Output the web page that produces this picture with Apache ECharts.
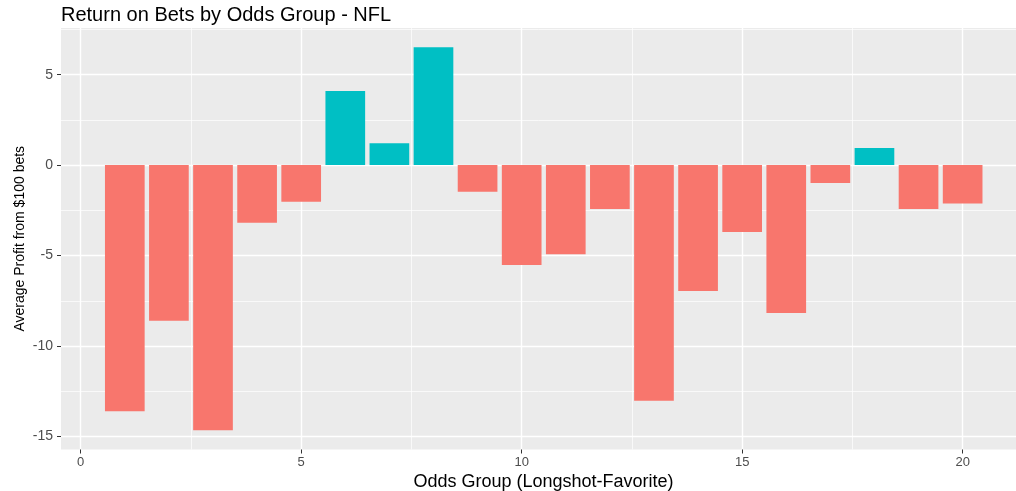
<!DOCTYPE html>
<html>
<head>
<meta charset="utf-8">
<script src="https://cdn.jsdelivr.net/npm/echarts@6/dist/echarts.min.js"></script>
<style>
html,body{margin:0;padding:0;background:#fff;}
#chart{width:1016px;height:491px;}
</style>
</head>
<body>
<div id="chart"></div>
<script>
// ---- data ----
const oddsGroups = [1, 2, 3, 4, 5, 6, 7, 8, 9, 10, 11, 12, 13, 14, 15, 16, 17, 18, 19, 20];
const avgProfit = [-13.6, -8.6, -14.66, -3.19, -2.03, 4.10, 1.21, 6.52, -1.47, -5.52,
                   -4.92, -2.43, -13.02, -6.96, -3.70, -8.18, -0.99, 0.94, -2.43, -2.12];
const xMajorTicks = [0, 5, 10, 15, 20];
const xMinorTicks = [2.5, 7.5, 12.5, 17.5];
const yMajorTicks = [-15, -10, -5, 0, 5];
const yMinorTicks = [-12.5, -7.5, -2.5, 2.5, 7.5];

const POS = '#00BFC4', NEG = '#F8766D';
const FONT = 'Liberation Sans';
const barHalf = 0.45;

const chart = echarts.init(document.getElementById('chart'), null, {renderer: 'canvas'});

const seriesData = oddsGroups.map((g, i) => [g, avgProfit[i]]);

const xCommon = {type: 'value', min: -0.447, max: 21.21, gridIndex: 0};
const yCommon = {type: 'value', min: -15.72, max: 7.58, gridIndex: 0};

const option = {
  animation: false,
  backgroundColor: '#ffffff',
  title: {
    text: 'Return on Bets by Odds Group - NFL',
    left: 56, top: 0,
    textStyle: {fontFamily: FONT, fontSize: 20, fontWeight: 'normal', color: '#000'}
  },
  grid: {
    left: 61, top: 28, right: 0, bottom: 41.5,
    outerBoundsMode: 'none', containLabel: false,
    show: true, backgroundColor: '#EBEBEB', borderWidth: 0
  },
  xAxis: [
    Object.assign({}, xCommon, {
      position: 'bottom',
      axisLine: {show: false, onZero: false},
      axisTick: {show: true, length: 4, customValues: xMajorTicks, lineStyle: {color: '#333333', width: 1}},
      axisLabel: {show: true, customValues: xMajorTicks, color: '#4D4D4D', fontSize: 13, fontFamily: FONT, margin: 6},
      splitLine: {show: true, lineStyle: {color: '#ffffff', width: 1.4}},
      name: 'Odds Group (Longshot-Favorite)',
      nameLocation: 'middle', nameGap: 21,
      nameTextStyle: {fontFamily: FONT, fontSize: 18, color: '#000', padding: [0, 0, 0, 10]}
    }),
    Object.assign({}, xCommon, {
      position: 'bottom',
      axisLine: {show: false, onZero: false},
      axisTick: {show: false, customValues: xMinorTicks},
      axisLabel: {show: false, customValues: xMinorTicks},
      splitLine: {show: true, lineStyle: {color: '#ffffff', width: 0.7}}
    })
  ],
  yAxis: [
    Object.assign({}, yCommon, {
      position: 'left',
      axisLine: {show: false, onZero: false},
      axisTick: {show: true, length: 4, customValues: yMajorTicks, lineStyle: {color: '#333333', width: 1}},
      axisLabel: {show: true, customValues: yMajorTicks, color: '#4D4D4D', fontSize: 14, fontFamily: FONT, margin: 8},
      splitLine: {show: true, lineStyle: {color: '#ffffff', width: 1.4}},
      name: 'Average Profit from $100 bets',
      nameLocation: 'middle', nameGap: 34, nameRotate: 90, nameMoveOverlap: false,
      nameTextStyle: {fontFamily: FONT, fontSize: 14, color: '#000'}
    }),
    Object.assign({}, yCommon, {
      position: 'left',
      axisLine: {show: false, onZero: false},
      axisTick: {show: false, customValues: yMinorTicks},
      axisLabel: {show: false, customValues: yMinorTicks},
      splitLine: {show: true, lineStyle: {color: '#ffffff', width: 0.7}}
    })
  ],
  series: [{
    type: 'custom',
    xAxisIndex: 0, yAxisIndex: 0,
    encode: {x: 0, y: 1},
    data: seriesData,
    renderItem: function (params, api) {
      const x = api.value(0), y = api.value(1);
      const p0 = api.coord([x - barHalf, y]);
      const p1 = api.coord([x + barHalf, 0]);
      return {
        type: 'rect',
        shape: {x: p0[0], y: Math.min(p0[1], p1[1]), width: p1[0] - p0[0], height: Math.abs(p1[1] - p0[1])},
        style: {fill: y >= 0 ? POS : NEG}
      };
    }
  }]
};
chart.setOption(option);
</script>
</body>
</html>
